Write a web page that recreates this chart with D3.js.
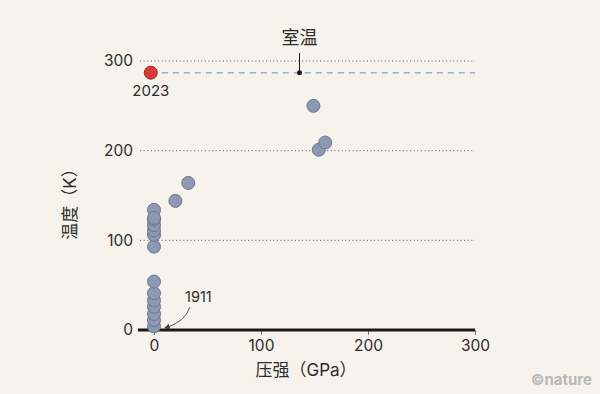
<!DOCTYPE html>
<html>
<head>
<meta charset="utf-8">
<script src="https://cdn.jsdelivr.net/npm/d3@7"></script>
<style>
  html, body { margin: 0; padding: 0; background: #f5f3ec; }
  svg { display: block; }
  text { font-family: Inter, "Noto Sans CJK SC", sans-serif; fill: #2b2b2b; }
</style>
</head>
<body>
<svg id="chart"></svg>
<script>
// pressure (GPa) and critical temperature (K) of each superconductor
var pressures = [0, 0, 0, 0, 0, 0, 0, 0, 0, 0, 0, 0, 0, 0, 20, 32, 149, 154, 160];
var temps     = [4, 11, 18, 26, 33, 41, 54, 93, 106, 111, 117, 123, 134, 125, 144, 164, 250, 201, 209];
// the 2023 claim
var newPressure = [-3];
var newTemp = [287];
var roomTemp = 287;
var xTicks = [0, 100, 200, 300];
var yTicks = [0, 100, 200, 300];

var svgWidth = 600, svgHeight = 394;
var svg = d3.select("#chart")
    .attr("width", svgWidth)
    .attr("height", svgHeight);

var x = d3.scaleLinear().domain([0, 300]).range([154, 475]);
var y = d3.scaleLinear().domain([0, 300]).range([330, 61]);

// dotted grid lines
svg.append("g")
    .selectAll("line")
    .data(yTicks.filter(function(d) { return d > 0; }))
    .enter().append("line")
    .attr("x1", x(-13))
    .attr("x2", x(300))
    .attr("y1", function(d) { return y(d); })
    .attr("y2", function(d) { return y(d); })
    .attr("stroke", "#555")
    .attr("stroke-width", 1)
    .attr("stroke-dasharray", "1,2.6");

// y axis labels
var yAxis = svg.append("g")
    .attr("transform", "translate(" + x(-13) + ",0)")
    .call(d3.axisLeft(y).tickValues(yTicks).tickSize(0).tickPadding(7));
yAxis.select(".domain").remove();
yAxis.selectAll("text")
    .attr("font-size", 15.5)
    .attr("font-family", "Inter, sans-serif")
    .attr("fill", "#2b2b2b");

// x axis
var xAxis = svg.append("g")
    .attr("transform", "translate(0," + y(0) + ")")
    .call(d3.axisBottom(x).tickValues(xTicks).tickSize(5).tickPadding(5));
xAxis.select(".domain").remove();
xAxis.selectAll("line").attr("stroke", "#777");
xAxis.selectAll("text")
    .attr("font-size", 15.5)
    .attr("font-family", "Inter, sans-serif")
    .attr("fill", "#2b2b2b");

// baseline
svg.append("line")
    .attr("x1", x(-15))
    .attr("x2", x(300))
    .attr("y1", y(0))
    .attr("y2", y(0))
    .attr("stroke", "#1a1a1a")
    .attr("stroke-width", 3);

// room temperature line
svg.append("line")
    .attr("x1", x(newPressure[0]))
    .attr("x2", x(300))
    .attr("y1", y(roomTemp))
    .attr("y2", y(roomTemp))
    .attr("stroke", "#8fb1d3")
    .attr("stroke-width", 1.5)
    .attr("stroke-dasharray", "6,5");

// room temperature marker
var rtX = x(136);
svg.append("line")
    .attr("x1", rtX).attr("x2", rtX)
    .attr("y1", 53).attr("y2", y(roomTemp))
    .attr("stroke", "#1a1a1a")
    .attr("stroke-width", 1);
svg.append("circle")
    .attr("cx", rtX).attr("cy", y(roomTemp))
    .attr("r", 2.5)
    .attr("fill", "#1a1a1a");
svg.append("text")
    .attr("x", rtX)
    .attr("y", 44)
    .attr("text-anchor", "middle")
    .attr("font-size", 18)
    .text("室温");

// data points
var data = pressures.map(function(p, i) { return { p: p, t: temps[i] }; });
svg.append("g")
    .selectAll("circle")
    .data(data)
    .enter().append("circle")
    .attr("cx", function(d) { return x(d.p); })
    .attr("cy", function(d) { return y(d.t); })
    .attr("r", 6.5)
    .attr("fill", "#8e98b3")
    .attr("stroke", "#6c7691")
    .attr("stroke-width", 1);

svg.append("circle")
    .attr("cx", x(newPressure[0]))
    .attr("cy", y(newTemp[0]))
    .attr("r", 6.5)
    .attr("fill", "#d83a3a")
    .attr("stroke", "#a82424")
    .attr("stroke-width", 1);

svg.append("text")
    .attr("x", x(newPressure[0]))
    .attr("y", 96)
    .attr("text-anchor", "middle")
    .attr("font-size", 15)
    .text("2023");

// 1911 annotation
svg.append("defs").append("marker")
    .attr("id", "arrow")
    .attr("viewBox", "0 0 10 10")
    .attr("refX", 8).attr("refY", 5)
    .attr("markerWidth", 6).attr("markerHeight", 6)
    .attr("orient", "auto")
    .append("path")
    .attr("d", "M0,0 L10,5 L0,10 z")
    .attr("fill", "#444");

svg.append("path")
    .attr("d", "M190,307 Q185,322 165,328")
    .attr("fill", "none")
    .attr("stroke", "#555")
    .attr("stroke-width", 1)
    .attr("marker-end", "url(#arrow)");

svg.append("text")
    .attr("x", 185)
    .attr("y", 302)
    .attr("font-size", 14.5)
    .text("1911");

// axis titles
svg.append("text")
    .attr("transform", "translate(76,200) rotate(-90)")
    .attr("text-anchor", "middle")
    .attr("font-size", 17)
    .text("温度（K）");

svg.append("text")
    .attr("x", 306)
    .attr("y", 376)
    .attr("text-anchor", "middle")
    .attr("font-size", 17)
    .text("压强（GPa）");

// credit
svg.append("text")
    .attr("x", 592)
    .attr("y", 385)
    .attr("text-anchor", "end")
    .attr("font-size", 15)
    .attr("font-family", "'Liberation Serif', serif")
    .attr("font-weight", "bold")
    .style("fill", "#b8b8b8")
    .text("©nature");
</script>
</body>
</html>
